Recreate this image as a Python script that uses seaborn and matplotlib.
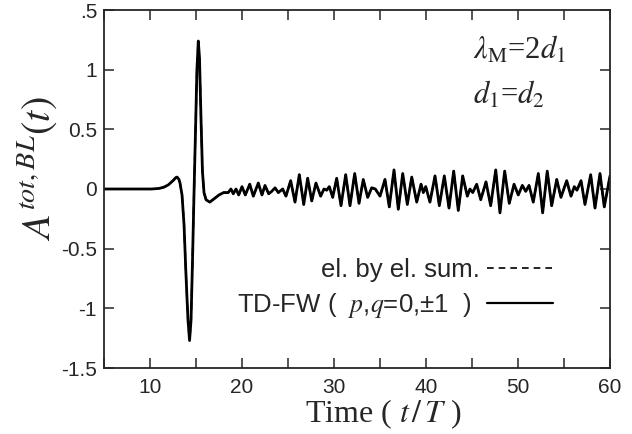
import numpy as np
import pandas as pd
import matplotlib
matplotlib.use("Agg")
import matplotlib.pyplot as plt
import seaborn as sns
from matplotlib.lines import Line2D
from matplotlib.ticker import MultipleLocator

# ---- data ----
time_t = [5.0, 10.0, 10.2, 11.0, 11.5, 12.0, 12.5, 12.8, 12.95, 13.15, 13.26, 13.48,
          13.7, 13.9, 14.13, 14.3, 14.46, 14.62, 14.78, 14.95, 15.1, 15.25, 15.38,
          15.54, 15.7, 15.87, 16.09, 16.5, 17.0, 17.5, 18.0, 18.5,
          18.80, 19.05, 19.35, 19.64, 20.0, 20.36, 20.84, 21.23, 21.77, 22.17, 22.5,
          22.9, 23.23, 23.59, 23.95, 24.42, 24.78, 25.29, 25.76, 26.23, 26.71, 27.14,
          27.58, 28.04, 28.55, 28.91, 29.21, 29.49, 29.86, 30.29, 30.76, 31.27, 31.74,
          32.25, 32.72, 33.18, 33.66, 34.10, 34.49, 35.0, 35.54, 36.01, 36.52, 36.99,
          37.47, 37.97, 38.45, 38.99, 39.46, 39.71, 39.97, 40.43, 40.98, 41.45, 41.99,
          42.5, 43.01, 43.51, 43.99, 44.49, 44.78, 45.08, 45.51, 45.95, 46.52, 47.03,
          47.58, 48.04, 48.55, 49.05, 49.57, 50.03, 50.47, 50.84, 51.2, 51.66, 52.21,
          52.68, 53.18, 53.66, 54.21, 54.67, 55.29, 55.76, 56.12, 56.41, 56.85, 57.28,
          57.9, 58.37, 58.91, 59.38, 60.0]
amp_tdfw = [0.0, 0.0, 0.0, 0.005, 0.015, 0.035, 0.07, 0.095, 0.10, 0.08, 0.05, -0.05,
            -0.30, -0.70, -1.10, -1.27, -1.10, -0.60, -0.05, 0.50, 1.00, 1.24, 1.10,
            0.60, 0.15, -0.03, -0.09, -0.11, -0.08, -0.05, -0.03, -0.03,
            0.0, -0.04, 0.0, -0.05, 0.02, -0.05, 0.04, -0.06, 0.05, -0.05, 0.03,
            -0.04, -0.02, 0.01, -0.03, 0.0, -0.06, 0.07, -0.11, 0.12, -0.13, 0.09,
            -0.10, 0.05, -0.06, 0.0, -0.01, 0.02, -0.07, 0.09, -0.14, 0.12, -0.14,
            0.13, -0.12, 0.08, -0.07, 0.01, 0.0, -0.06, 0.08, -0.15, 0.16, -0.17,
            0.13, -0.13, 0.10, -0.11, 0.04, -0.03, 0.02, -0.11, 0.11, -0.14, 0.11,
            -0.16, 0.15, -0.18, 0.11, -0.06, 0.0, -0.03, 0.04, -0.09, 0.06, -0.14,
            0.16, -0.20, 0.15, -0.12, 0.04, -0.05, 0.03, -0.02, 0.03, -0.11, 0.13,
            -0.20, 0.15, -0.14, 0.08, -0.07, 0.07, -0.06, 0.02, -0.01, 0.07, -0.13,
            0.12, -0.16, 0.13, -0.15, 0.11]
# element-by-element sum coincides with the TD-FW curve at this scale
amp_elsum = list(amp_tdfw)

ytick_vals = [-1.5, -1.0, -0.5, 0.0, 0.5, 1.0, 1.5]
ytick_labels = ["-1.5", "-1", "-0.5", "0", "0.5", "1", ".5"]
xtick_vals = [10, 20, 30, 40, 50, 60]

df = pd.DataFrame({"t": time_t, "tdfw": amp_tdfw, "elsum": amp_elsum})

sns.set_style("ticks")
plt.rcParams["font.family"] = ["Liberation Sans", "DejaVu Sans"]
plt.rcParams["mathtext.fontset"] = "stix"

fig = plt.figure(figsize=(6.32, 4.34), dpi=100)
ax = fig.add_axes([104 / 632, 1 - 368 / 434, (610 - 104) / 632, (368 - 10) / 434])

sns.lineplot(data=df, x="t", y="elsum", ax=ax, color="black", lw=1.4,
             linestyle=(0, (4, 3)), estimator=None, sort=False)
sns.lineplot(data=df, x="t", y="tdfw", ax=ax, color="black", lw=2.0,
             estimator=None, sort=False)

ax.set_xlim(5, 60)
ax.set_ylim(-1.5, 1.5)
ax.set_xticks(xtick_vals)
ax.xaxis.set_minor_locator(MultipleLocator(5))
ax.set_yticks(ytick_vals)
ax.set_yticklabels(ytick_labels)
ax.tick_params(which="both", direction="in", top=True, right=True, length=7,
               width=1.1, labelsize=15, pad=7)
ax.tick_params(axis="y", pad=5)
for s in ax.spines.values():
    s.set_linewidth(1.3)

ax.set_xlabel(r"Time ( $t\,/\,T$ )", family="Liberation Serif", fontsize=23)
ax.xaxis.set_label_coords(0.553, -0.082)
ax.set_ylabel(r"$A^{tot,BL}(t)$", fontsize=29)
ax.yaxis.set_label_coords(-0.088, 0.556)

ax.text(0.729, 0.888, r"$\lambda_{\mathrm{M}}$=2$d_1$", transform=ax.transAxes,
        fontsize=22, family="Liberation Serif", ha="left", va="center")
ax.text(0.729, 0.763, r"$d_1$=$d_2$", transform=ax.transAxes,
        fontsize=22, family="Liberation Serif", ha="left", va="center")

handles = [Line2D([], [], color="black", lw=1.2, linestyle=(0, (4, 3))),
           Line2D([], [], color="black", lw=1.6)]
labels = ["el. by el. sum.", "TD-FW (  $p$,$q$=0,±1  )  "]
ax.legend(handles, labels, loc="center right", bbox_to_anchor=(0.888, 0.222),
          frameon=False, markerfirst=False, handlelength=2.6, fontsize=18.5,
          labelspacing=0.35, handletextpad=0.25, borderpad=0, borderaxespad=0)
ax.set_facecolor("white")
fig.patch.set_facecolor("white")
fig.savefig("out.png", dpi=100)
